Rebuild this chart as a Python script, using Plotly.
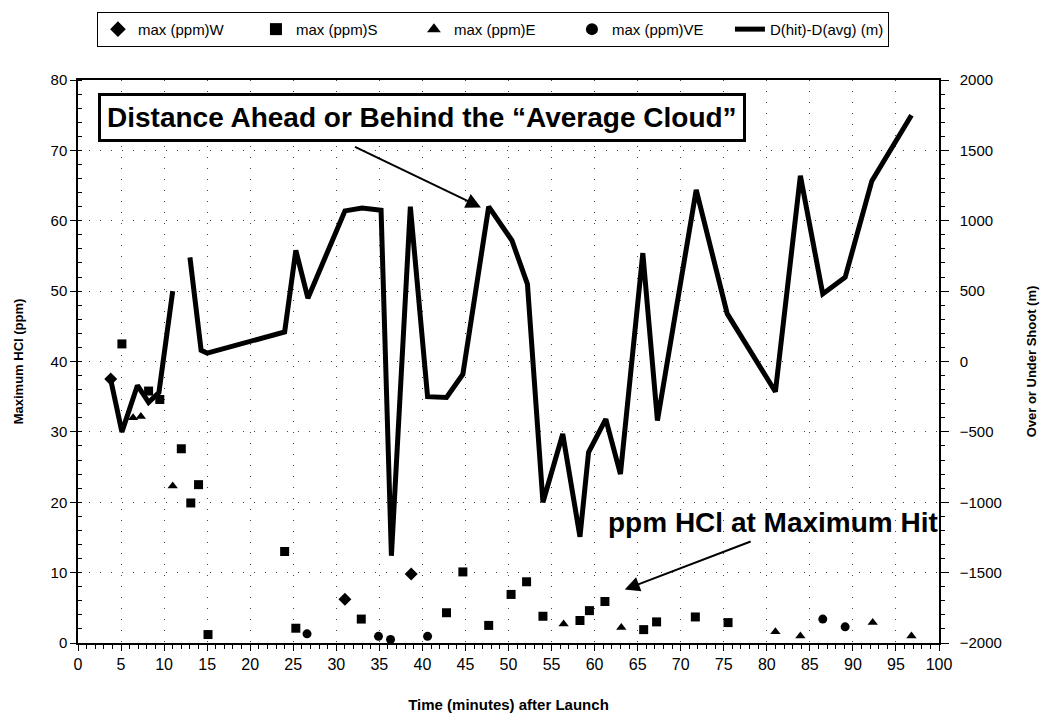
import plotly.graph_objects as go

# Maximum HCl readings (ppm) by sampling group, against minutes after launch
w_time = [3.8, 31.0, 38.7]
w_ppm = [37.5, 6.2, 9.8]

s_time = [5.1, 8.2, 9.5, 12.0, 13.1, 14.0, 15.1, 24.0, 25.3, 32.9, 42.8, 44.7,
          47.7, 50.3, 52.1, 54.0, 58.3, 59.4, 61.2, 65.7, 67.2, 71.7, 75.5]
s_ppm = [42.5, 35.8, 34.6, 27.6, 19.9, 22.5, 1.2, 13.0, 2.1, 3.4, 4.3, 10.1,
         2.5, 6.9, 8.7, 3.8, 3.2, 4.6, 5.9, 1.9, 3.0, 3.7, 2.9]

e_time = [6.4, 7.3, 11.0, 56.4, 63.1, 81.0, 83.9, 92.3, 96.8]
e_ppm = [32.0, 32.2, 22.3, 2.7, 2.2, 1.6, 1.0, 2.9, 1.0]

ve_time = [26.6, 34.9, 36.3, 40.6, 86.5, 89.1]
ve_ppm = [1.3, 0.95, 0.5, 0.95, 3.4, 2.3]

# D(hit) - D(avg) in metres; None leaves the gap between the two runs
d_time = [3.8, 5.1, 6.9, 8.2, 9.4, 11.0, None,
          13.0, 14.3, 15.0, 24.0, 25.3, 26.7, 31.0, 33.0, 35.2, 36.4, 38.6,
          40.6, 42.8, 44.7, 47.7, 50.4, 52.2, 54.0, 56.3, 58.3, 59.3, 61.3,
          63.0, 65.6, 67.3, 71.8, 75.4, 81.0, 83.9, 86.5, 89.1, 92.2, 96.8]
d_offset = [-130, -500, -170, -290, -220, 500, None,
            740, 80, 60, 210, 790, 450, 1070, 1090, 1075, -1380, 1100,
            -250, -255, -90, 1100, 860, 550, -1000, -515, -1245, -645, -410,
            -800, 770, -420, 1220, 340, -215, 1320, 480, 598, 1283, 1750]

FONT = "Liberation Sans, Arial, sans-serif"
NARROW = "Liberation Sans Narrow, Liberation Sans, Arial, sans-serif"

fig = go.Figure()

marker_style = dict(color="black", line=dict(width=0))
fig.add_trace(go.Scatter(x=w_time, y=w_ppm, mode="markers", name="max (ppm)W",
                         marker=dict(symbol="diamond", size=10, **marker_style)))
fig.add_trace(go.Scatter(x=s_time, y=s_ppm, mode="markers", name="max (ppm)S",
                         marker=dict(symbol="square", size=9, **marker_style)))
fig.add_trace(go.Scatter(x=e_time, y=e_ppm, mode="markers", name="max (ppm)E",
                         marker=dict(symbol="triangle-up", size=9, **marker_style)))
fig.add_trace(go.Scatter(x=ve_time, y=ve_ppm, mode="markers", name="max (ppm)VE",
                         marker=dict(symbol="circle", size=9, **marker_style)))
fig.add_trace(go.Scatter(x=d_time, y=d_offset, mode="lines", name="D(hit)-D(avg) (m)",
                         yaxis="y2", connectgaps=False,
                         line=dict(color="black", width=5)))

grid = dict(showgrid=True, gridcolor="#444", gridwidth=1, griddash="1px,10px")

fig.update_layout(
    width=1049, height=723,
    margin=dict(l=78, r=100, t=74, b=79),
    paper_bgcolor="white", plot_bgcolor="white",
    font=dict(family=FONT, color="black", size=14),
    showlegend=True,
    legend=dict(orientation="h", x=0.022, y=1.121, xanchor="left", yanchor="top",
                bordercolor="black", borderwidth=1, bgcolor="white",
                font=dict(family=FONT, size=15), entrywidth=113, entrywidthmode="pixels",
                itemsizing="constant", tracegroupgap=0),
    xaxis=dict(range=[0, 100], dtick=5, tick0=0, showline=True, linecolor="black",
               linewidth=1.5, mirror=True, ticks="outside", ticklen=6, tickcolor="black",
               tickfont=dict(family=NARROW, size=16),
               minor=dict(dtick=1, ticks="outside", ticklen=4, tickcolor="black", showgrid=False),
               title=dict(text="Time (minutes) after Launch", standoff=28,
                          font=dict(family=NARROW, size=15, weight="bold")),
               zeroline=False, **grid),
    yaxis=dict(range=[0, 80], dtick=10, showline=True, linecolor="black", linewidth=1.5,
               ticks="outside", ticklen=6, tickcolor="black",
               tickfont=dict(family=FONT, size=15),
               minor=dict(dtick=2, ticks="inside", ticklen=4, tickcolor="black", showgrid=False),
               title=dict(text="Maximum HCl (ppm)", standoff=24,
                          font=dict(family=FONT, size=13, weight="bold")),
               zeroline=False, **grid),
    yaxis2=dict(range=[-2000, 2000], dtick=500, overlaying="y", side="right",
                showline=True, linecolor="black", linewidth=1.5,
                ticks="outside", ticklen=8, tickcolor="black", ticklabelstandoff=8,
                tickfont=dict(family=FONT, size=15),
                minor=dict(dtick=100, ticks="outside", ticklen=4, tickcolor="black"),
                title=dict(text="Over or Under Shoot (m)", standoff=26,
                           font=dict(family=FONT, size=13, weight="bold")),
                showgrid=False, zeroline=False),
)

# Callout for the distance line, boxed, with its pointer to the 48-minute peak
fig.add_annotation(xref="paper", yref="paper", x=0.023, y=0.933,
                   xanchor="left", yanchor="middle", showarrow=False,
                   text="Distance Ahead or Behind the \u201cAverage Cloud\u201d",
                   font=dict(family=FONT, size=28, weight="bold"),
                   bgcolor="white", bordercolor="black", borderwidth=3, borderpad=6)
fig.add_annotation(xref="x", yref="y", x=46.8, y=61.9, axref="x", ayref="y",
                   ax=32.0, ay=70.6, text="", showarrow=True,
                   arrowhead=2, arrowsize=1.5, arrowwidth=2, arrowcolor="black")

# Callout for the concentration markers
fig.add_annotation(xref="paper", yref="paper", x=0.613, y=0.214,
                   xanchor="left", yanchor="middle", showarrow=False,
                   text="ppm HCl at Maximum Hit",
                   font=dict(family=FONT, size=28, weight="bold"))
fig.add_annotation(xref="x", yref="y", x=63.5, y=7.6, axref="x", ayref="y",
                   ax=78.3, ay=14.5, text="", showarrow=True,
                   arrowhead=2, arrowsize=1.5, arrowwidth=2, arrowcolor="black")

fig.write_html("out.html")
